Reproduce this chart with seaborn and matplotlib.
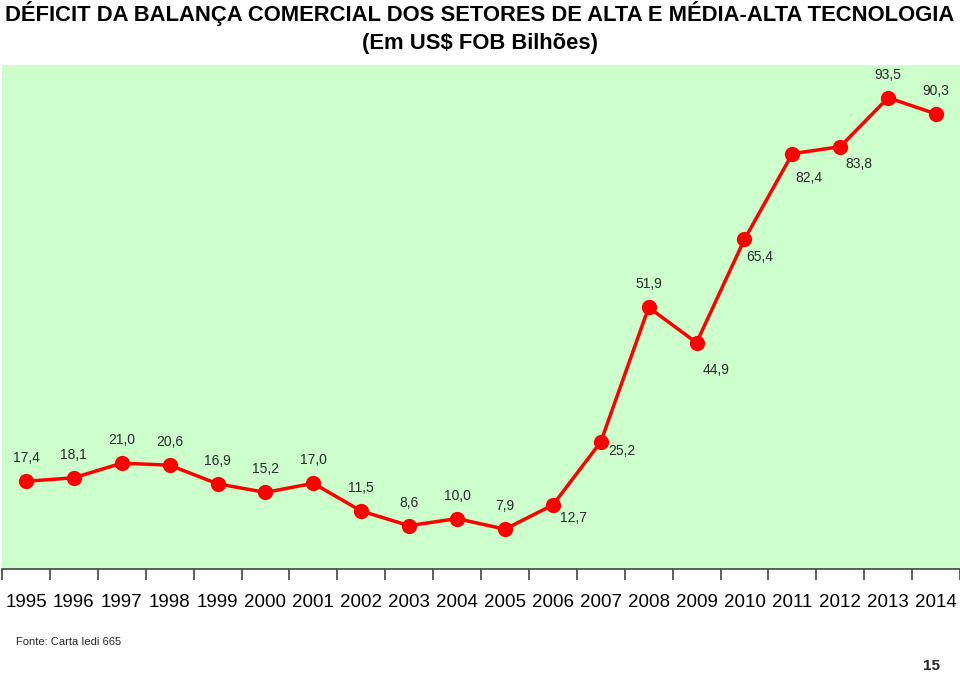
import matplotlib

matplotlib.use("Agg")

import matplotlib.pyplot as plt
import numpy as np
import pandas as pd
import seaborn as sns

years = [str(y) for y in range(1995, 2015)]
deficit = [17.4, 18.1, 21.0, 20.6, 16.9, 15.2, 17.0, 11.5, 8.6, 10.0,
           7.9, 12.7, 25.2, 51.9, 44.9, 65.4, 82.4, 83.8, 93.5, 90.3]

TITLE = "DÉFICIT DA BALANÇA COMERCIAL DOS SETORES DE ALTA E MÉDIA-ALTA TECNOLOGIA"
SUBTITLE = "(Em US$ FOB Bilhões)"
SOURCE = "Fonte: Carta Iedi 665"
PAGE = "15"

# label placement (pixel offsets from the point), default is straight above
ABOVE = (0, 23)
label_offset = {
    "2006": (21, -13),
    "2007": (21, -9),
    "2009": (20, -27),
    "2010": (15, -18),
    "2011": (17, -24),
    "2012": (19, -17),
}

sns.set_theme(style="white")
plt.rcParams["font.family"] = ["Liberation Sans", "DejaVu Sans"]

df = pd.DataFrame({"pos": np.arange(len(years)), "year": years, "deficit": deficit})

fig = plt.figure(figsize=(9.6, 6.73), dpi=100)
ax = fig.add_axes([2 / 960, 104 / 673, 958 / 960, 504 / 673])
ax.set_facecolor("#ccffcc")

sns.lineplot(
    data=df, x="pos", y="deficit", ax=ax,
    color="#ff0000", linewidth=2.5, marker="o", markersize=11,
    markeredgecolor="#ff0000", markeredgewidth=0,
)

for _, row in df.iterrows():
    dx, dy = label_offset.get(row["year"], ABOVE)
    ax.annotate(
        f"{row['deficit']:.1f}".replace(".", ","),
        (row["pos"], row["deficit"]),
        xytext=(dx, dy), textcoords="offset pixels",
        ha="center", va="center", fontsize=10, color="#2a2a2a",
    )

ax.set_xlim(-0.5, len(years) - 0.5)
ax.set_ylim(0, 100)
ax.set_yticks([])
ax.set_xticks(df["pos"])
ax.set_xticklabels(years, fontsize=13.5, color="black")
ax.set_xticks(np.arange(len(years) + 1) - 0.5, minor=True)
ax.tick_params(axis="x", which="both", bottom=True)
ax.tick_params(axis="x", which="major", length=0, pad=18)
ax.tick_params(axis="x", which="minor", length=8, width=1.2, color="#444444", direction="out")
ax.set_xlabel("")
ax.set_ylabel("")
for side in ["left", "right", "top"]:
    ax.spines[side].set_visible(False)
ax.spines["bottom"].set_color("#444444")
ax.spines["bottom"].set_linewidth(1.2)

fig.text(0.5, 1 - 14 / 673, TITLE, ha="center", va="center",
         fontsize=15.8, fontweight="bold", color="black")
fig.text(0.5, 1 - 43 / 673, SUBTITLE, ha="center", va="center",
         fontsize=15.8, fontweight="bold", color="black")
fig.text(16 / 960, 1 - 642 / 673, SOURCE, ha="left", va="center", fontsize=8)
fig.text(940 / 960, 1 - 666 / 673, PAGE, ha="right", va="center",
         fontsize=11, fontweight="bold")

fig.savefig("out.png", dpi=100)
